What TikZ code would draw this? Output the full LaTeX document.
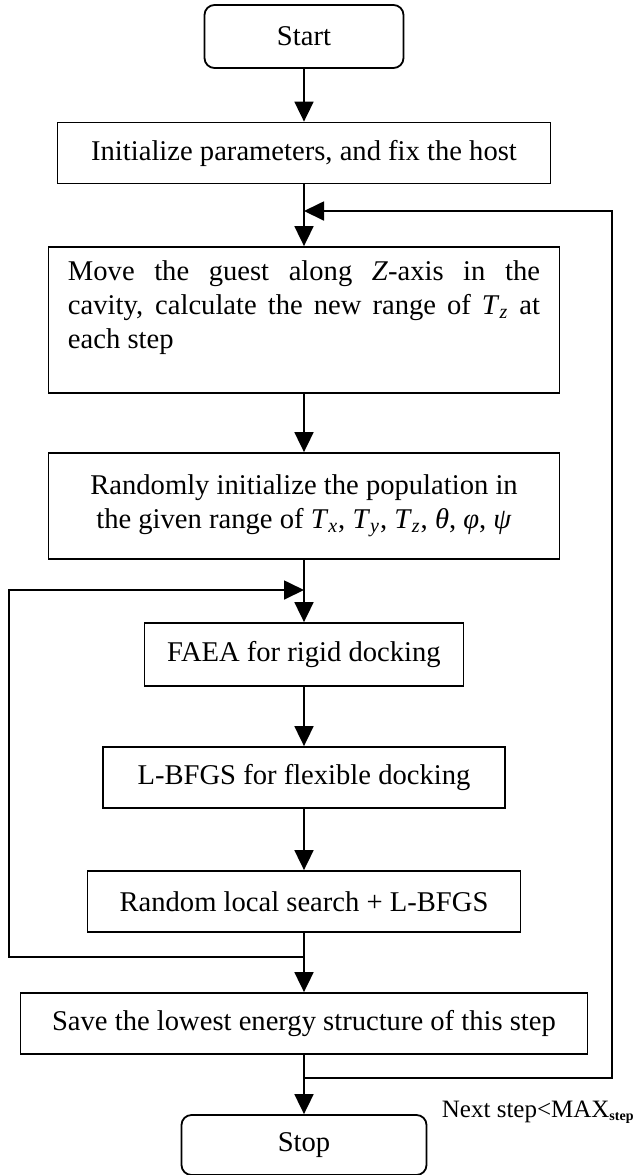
\documentclass[tikz,border=0pt]{standalone}
\usepackage{fontspec}
\setmainfont{Liberation Serif}
\usepackage{tikz}
\usetikzlibrary{arrows.meta}
\tikzstyle{box}=[draw, line width=0.9pt, inner sep=0pt, align=center, font=\fontsize{14.3}{16.8}\selectfont]
\tikzstyle{rbox}=[box, rounded corners=5pt]
\tikzstyle{flow}=[line width=0.9pt, -{Triangle[length=10pt,width=9.5pt]}]
\newcommand{\Tvar}[1]{\textit{T}\textsubscript{\textit{#1}}}

\begin{document}
\begin{tikzpicture}[x=0.5pt, y=-0.5pt]
        \useasboundingbox (0,0) rectangle (636,1175);
        \node[rbox, minimum width=99.5pt, minimum height=31.5pt] (start) at (304,36.5) {Start};
        \node[box, minimum width=246.5pt, minimum height=30.5pt] (init) at (304,153) {Initialize parameters, and fix the host};
        \node[box, minimum width=255.5pt, minimum height=73pt] (move) at (304,320) {\parbox[c][59pt][t]{236pt}{\makebox[236pt][s]{Move the guest along \textit{Z}-axis in the}\\\makebox[236pt][s]{cavity, calculate the new range of \Tvar{z} at}\\each step}};
        \node[box, minimum width=255.5pt, minimum height=53pt] (popinit) at (304,506) {Randomly initialize the population in\\the given range of \Tvar{x}, \Tvar{y}, \Tvar{z}, \textit{θ}, \textit{φ}, \textit{ψ}};
        \node[box, minimum width=159.5pt, minimum height=31.5pt] (faea) at (304,654.5) {FAEA for rigid docking};
        \node[box, minimum width=201pt, minimum height=30.5pt] (lbfgs) at (304,777.5) {L-BFGS for flexible docking};
        \node[box, minimum width=216.5pt, minimum height=30.5pt] (rls) at (304,901.5) {Random local search + L-BFGS};
        \node[box, minimum width=283.5pt, minimum height=30.5pt] (save) at (304,1023.5) {Save the lowest energy structure of this step};
        \node[rbox, minimum width=122.5pt, minimum height=30pt] (stop) at (304,1145) {Stop};
        \node[anchor=base east, inner sep=0pt, font=\fontsize{12.5}{15}\selectfont] (cond) at (635,1117) {Next step<MAX\textsubscript{\textbf{\scriptsize step}}};
        \coordinate (j1) at (304,211);
        \coordinate (j2) at (304,590);
        \coordinate (j3) at (304,957);
        \coordinate (j4) at (304,1078);
        \coordinate (lb) at (9,957);
        \coordinate (lt) at (9,590);
        \coordinate (rb) at (612,1078);
        \coordinate (rt) at (612,211);
        \draw[flow] (start.south) -- (init.north);
        \draw[flow] (init.south) -- (move.north);
        \draw[flow] (move.south) -- (popinit.north);
        \draw[flow] (popinit.south) -- (faea.north);
        \draw[flow] (faea.south) -- (lbfgs.north);
        \draw[flow] (lbfgs.south) -- (rls.north);
        \draw[flow] (rls.south) -- (save.north);
        \draw[flow] (save.south) -- (stop.north);
        \draw[flow] (j3) -- (lb) -- (lt) -- (j2);
        \draw[flow] (j4) -- (rb) -- (rt) -- (j1);
    \end{tikzpicture}
\end{document}
